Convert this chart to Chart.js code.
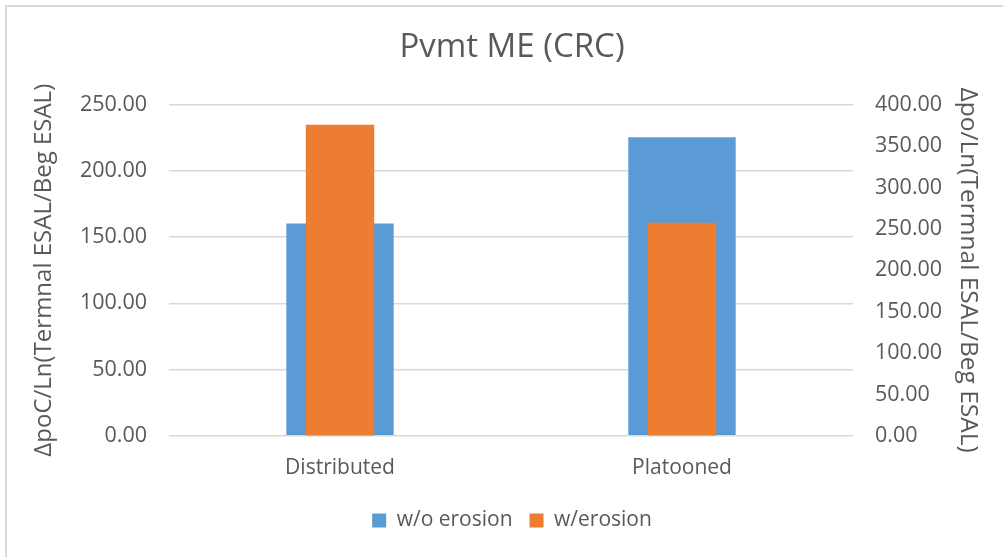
<!DOCTYPE html>
<html>
<head>
<meta charset="utf-8">
<script src="https://cdn.jsdelivr.net/npm/chart.js@4.4.1/dist/chart.umd.min.js"></script>
<style>
  html, body { margin: 0; padding: 0; background: #fff; overflow: hidden; }
  #wrap { width: 1003px; height: 557px; position: relative; overflow: hidden; }
</style>
</head>
<body>
<div id="wrap"><canvas id="pvmtChart" width="1024" height="557"></canvas></div>
<script>
// Pvmt ME (CRC) - two series on separate axes
const categories = ["Distributed", "Platooned"];
const withoutErosion = [160.3, 225.3];   // left axis
const withErosion = [375.8, 257.4];      // right axis
const leftTicks = [0, 50, 100, 150, 200, 250];
const rightTicks = [0, 50, 100, 150, 200, 250, 300, 350, 400];

const textColor = "#595959";
const fontFamily = "'Open Sans', sans-serif";

// thin frame along the top and left edges
const framePlugin = {
  id: "frame",
  beforeDraw(chart) {
    const c = chart.ctx;
    c.save();
    c.fillStyle = "#fff";
    c.fillRect(0, 0, chart.width, chart.height);
    c.fillStyle = "#d9d9d9";
    c.fillRect(5, 5, chart.width - 5, 2);
    c.fillRect(5, 5, 2, chart.height - 5);
    c.restore();
  },
};

const ctx = document.getElementById("pvmtChart").getContext("2d");
const pvmtChart = new Chart(ctx, {
  type: "bar",
  data: {
    labels: categories,
    datasets: [
      {
        label: "w/o erosion",
        data: withoutErosion,
        backgroundColor: "#5B9BD5",
        yAxisID: "y",
        barPercentage: 0.314,
        categoryPercentage: 1,
        order: 1,
      },
      {
        label: "w/erosion",
        data: withErosion,
        backgroundColor: "#ED7D31",
        yAxisID: "y2",
        barPercentage: 0.2,
        categoryPercentage: 1,
        order: 0,
      },
    ],
  },
  options: {
    responsive: false,
    animation: false,
    grouped: false,
    layout: { padding: { top: 0, bottom: 16, left: 0, right: 0 } },
    plugins: {
      title: {
        display: true,
        text: "Pvmt ME (CRC)",
        color: textColor,
        font: { family: fontFamily, size: 33, weight: "normal" },
        padding: { top: 28, bottom: 37 },
      },
      legend: {
        position: "bottom",
        labels: {
          color: textColor,
          font: { family: fontFamily, size: 21 },
          boxWidth: 14,
          boxHeight: 14,
          padding: 17,
          sort: (a, b) => a.datasetIndex - b.datasetIndex,
        },
      },
      tooltip: { enabled: false },
    },
    scales: {
      x: {
        grid: { display: false },
        border: { display: false },
        ticks: {
          color: textColor,
          font: { family: fontFamily, size: 21 },
          padding: 12,
        },
      },
      y: {
        position: "left",
        min: 0,
        max: 250,
        afterBuildTicks: (s) => { s.ticks = leftTicks.map((v) => ({ value: v })); },
        afterFit: (s) => { s.width = 169; },
        grid: { color: "#d9d9d9", lineWidth: 1.5, drawTicks: false },
        border: { display: false },
        ticks: {
          color: textColor,
          font: { family: fontFamily, size: 21.5 },
          padding: 22,
          callback: (v) => v.toFixed(2),
        },
        title: {
          display: true,
          text: "ΔpoC/Ln(Termnal ESAL/Beg ESAL)",
          color: textColor,
          font: { family: fontFamily, size: 24 },
          padding: { top: 30, bottom: 0 },
        },
      },
      y2: {
        position: "right",
        min: 0,
        max: 400,
        afterBuildTicks: (s) => { s.ticks = rightTicks.map((v) => ({ value: v })); },
        afterFit: (s) => { s.width = 171; },
        grid: { display: false, drawTicks: false },
        border: { display: false },
        ticks: {
          color: textColor,
          font: { family: fontFamily, size: 21.5 },
          padding: 22,
          callback: (v) => v.toFixed(2),
        },
        title: {
          display: true,
          text: "Δpo/Ln(Termnal ESAL/Beg ESAL)",
          color: textColor,
          font: { family: fontFamily, size: 24.5 },
          padding: { top: 41, bottom: 0 },
        },
      },
    },
  },
  plugins: [framePlugin],
});
</script>
</body>
</html>
